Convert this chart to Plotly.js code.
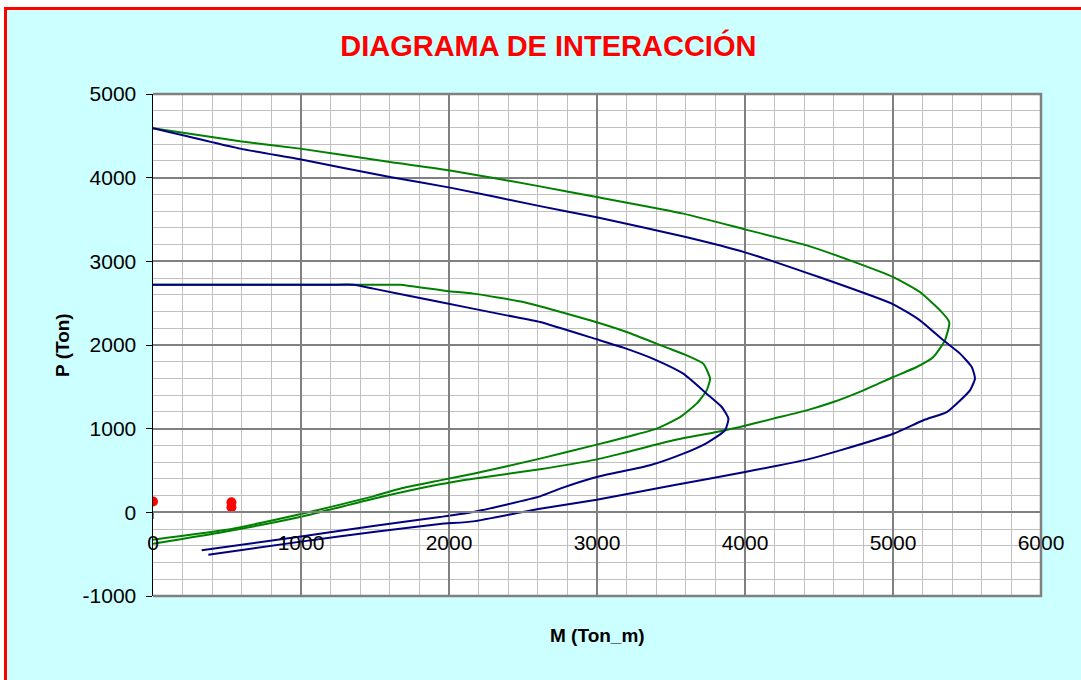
<!DOCTYPE html>
<html>
<head>
<meta charset="utf-8">
<script src="https://cdn.plot.ly/plotly-3.0.1.min.js"></script>
<style>
  body { margin: 0; background: #ffffff; overflow: hidden; }
  #frame {
    position: absolute; left: 4px; top: 7px;
    border-left: 3px solid #ff0000; border-top: 3px solid #ff0000;
    background: #ccffff;
  }
</style>
</head>
<body>
<div id="frame"><div id="chart"></div></div>
<script>
// diagrama de interaccion: M (Ton_m) vs P (Ton)

// curva exterior azul
const mAzulExt = [0, 588, 993, 1601, 2007, 2615, 2998, 3600, 4000, 4500, 5002, 5182, 5340, 5453, 5532, 5554, 5520, 5430, 5363, 5205, 5002, 4642, 4417, 4000, 3516, 2998, 2615, 2164, 1939, 1489, 1000, 374];
const pAzulExt = [4590, 4347, 4219, 4007, 3881, 3660, 3526, 3290, 3107, 2812, 2486, 2295, 2056, 1897, 1737, 1598, 1458, 1299, 1199, 1100, 940, 741, 630, 482, 323, 151, 44, -108, -140, -235, -350, -506];

// curva interior azul
const mAzulInt = [0, 600, 1200, 1354, 1489, 1939, 2390, 2615, 2998, 3178, 3403, 3583, 3741, 3843, 3888, 3865, 3741, 3583, 3358, 2998, 2750, 2615, 2164, 1939, 1489, 1000, 329];
const pAzulInt = [2720, 2720, 2720, 2720, 2674, 2514, 2354, 2275, 2068, 1968, 1817, 1657, 1418, 1259, 1120, 980, 828, 701, 562, 422, 283, 191, 4, -56, -163, -290, -454];

// curva exterior verde
const mVerdeExt = [0, 588, 993, 1601, 2007, 2615, 2998, 3583, 4000, 4417, 4709, 5002, 5182, 5318, 5374, 5381, 5351, 5273, 5160, 5002, 4800, 4597, 4417, 4191, 3966, 3809, 3516, 3178, 2998, 2615, 2164, 1939, 1489, 993, 475, 0];
const pVerdeExt = [4590, 4434, 4347, 4187, 4087, 3896, 3768, 3570, 3382, 3191, 3012, 2812, 2633, 2414, 2295, 2255, 2056, 1857, 1737, 1617, 1458, 1318, 1219, 1120, 1020, 960, 861, 709, 633, 515, 402, 335, 163, -56, -235, -375];

// curva interior verde
const mVerdeInt = [0, 800, 1500, 1669, 1984, 2164, 2502, 2953, 3200, 3471, 3606, 3718, 3764, 3741, 3673, 3561, 3403, 3200, 2998, 2615, 2164, 1939, 1669, 1489, 993, 475, 0];
const pVerdeInt = [2720, 2720, 2720, 2720, 2645, 2614, 2514, 2295, 2155, 1968, 1876, 1777, 1598, 1458, 1299, 1139, 1000, 900, 809, 642, 462, 382, 283, 191, -24, -215, -327];

// cargas actuantes
const mCargas = [0, 530, 530];
const pCargas = [130, 120, 60];

const xTicks = [0, 1000, 2000, 3000, 4000, 5000, 6000];
const yTicks = [-1000, 0, 1000, 2000, 3000, 4000, 5000];

const fuente = 'Liberation Sans, Arial, sans-serif';

function linea(x, y, color) {
    return { x: x, y: y, type: 'scatter', mode: 'lines',
        line: { color: color, width: 2, shape: 'spline', smoothing: 0.5 }, hoverinfo: 'skip' };
}

const traces = [
    linea(mVerdeExt, pVerdeExt, '#008000'),
    linea(mVerdeInt, pVerdeInt, '#008000'),
    linea(mAzulExt, pAzulExt, '#000080'),
    linea(mAzulInt, pAzulInt, '#000080'),
    { x: mCargas, y: pCargas, type: 'scatter', mode: 'markers',
      marker: { color: '#ff0000', size: 10 } }
];

const layout = {
    width: 1074, height: 670,
    margin: { l: 146, r: 40, t: 84, b: 84 },
    paper_bgcolor: 'rgba(0,0,0,0)',
    plot_bgcolor: '#ffffff',
    showlegend: false,
    font: { family: fuente, color: '#000000', size: 21 },
    title: { text: 'DIAGRAMA DE INTERACCIÓN', x: 0.504, xanchor: 'center',
        y: 1 - 36 / 670, yref: 'container', yanchor: 'middle',
        font: { family: fuente, size: 29, color: '#ff0000', weight: 'bold' } },
    xaxis: {
        range: [0, 6000], tickvals: xTicks, ticktext: xTicks.map(String),
        anchor: 'free', position: 1 / 6,
        showline: true, linecolor: '#808080', linewidth: 2,
        ticks: 'outside', ticklen: 6, tickcolor: '#808080', tickwidth: 1,
        ticklabelstandoff: 5,
        showgrid: true, gridcolor: '#808080', gridwidth: 2, zeroline: false,
        minor: { tick0: 0, dtick: 200, showgrid: true, gridcolor: '#c0c0c0', gridwidth: 1, ticks: '' },
        tickfont: { size: 21 }
    },
    yaxis: {
        range: [-1000, 5000], tickvals: yTicks, ticktext: yTicks.map(String),
        showline: true, linecolor: '#000000', linewidth: 1.5,
        ticks: 'outside', ticklen: 6, tickcolor: '#000000', tickwidth: 1,
        ticklabelstandoff: 5,
        showgrid: true, gridcolor: '#808080', gridwidth: 2, zeroline: false,
        minor: { tick0: 0, dtick: 200, showgrid: true, gridcolor: '#c0c0c0', gridwidth: 1, ticks: '' },
        tickfont: { size: 21 }
    },
    shapes: [
        { type: 'path', xref: 'paper', yref: 'paper', path: 'M0,1 L1,1 L1,0 L0,0',
          line: { color: '#808080', width: 2.5 }, layer: 'above' }
    ],
    annotations: [
        { text: '<b>M (Ton_m)</b>', xref: 'paper', yref: 'paper', x: 0.5, y: -0.0777,
          xanchor: 'center', yanchor: 'middle', showarrow: false,
          font: { family: fuente, size: 19, color: '#000000' } },
        { text: '<b>P (Ton)</b>', xref: 'paper', yref: 'paper', x: -0.1025, y: 0.5,
          xanchor: 'center', yanchor: 'middle', showarrow: false, textangle: -90,
          font: { family: fuente, size: 19, color: '#000000' } }
    ]
};

Plotly.newPlot('chart', traces, layout, { displayModeBar: false, staticPlot: true });
</script>
</body>
</html>
